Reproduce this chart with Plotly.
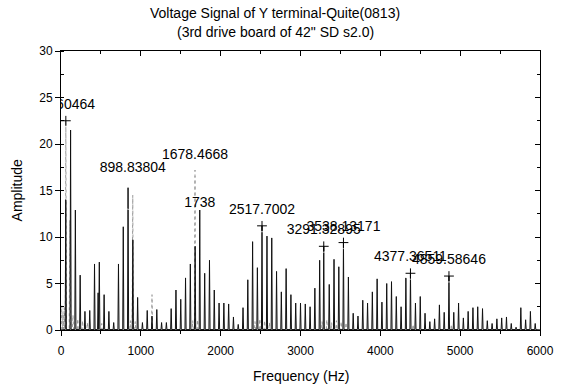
import plotly.graph_objects as go

# ---- spectrum data (frequency in Hz, amplitude) ----
# main spectrum (solid black)
black_freq = [60, 120, 180, 240, 300, 360, 420, 465, 480, 540, 600, 660, 720, 780, 840, 900,
              960, 1020, 1080, 1140, 1200, 1260, 1320, 1380, 1440, 1500, 1560, 1620, 1680,
              1738, 1800, 1860, 1920, 1980, 2040, 2100, 2160, 2220, 2280, 2340, 2400, 2460,
              2517.7002, 2580, 2640, 2700, 2760, 2820, 2880, 2940, 3000, 3060, 3120, 3180,
              3240, 3291.32895, 3360, 3420, 3480, 3538.13171, 3600, 3660, 3720, 3780, 3840,
              3900, 3960, 4020, 4080, 4140, 4200, 4260, 4320, 4377.36511, 4440, 4500, 4560,
              4620, 4680, 4740, 4800, 4859.58646, 4920, 4980, 5040, 5100, 5160, 5220, 5280,
              5340, 5400, 5460, 5520, 5580, 5640, 5700, 5760, 5820, 5880, 5940]
black_amp = [14.0, 21.5, 12.9, 5.9, 2.0, 2.1, 7.1, 4.0, 7.3, 3.8, 2.0, 0.8, 7.1, 11.1, 15.3, 9.7,
             3.5, 0.8, 2.1, 1.5, 2.2, 0.8, 0.8, 2.3, 4.3, 3.3, 5.6, 7.1, 9.0,
             12.9, 6.1, 7.5, 4.3, 2.9, 2.9, 2.8, 1.4, 0.6, 2.4, 5.4, 9.5, 6.7,
             11.2, 10.1, 9.9, 6.3, 4.1, 6.6, 3.8, 2.9, 2.9, 2.8, 2.5, 4.5,
             7.5, 9.0, 4.9, 7.6, 6.8, 9.4, 5.7, 1.8, 1.5, 3.2, 2.9,
             4.1, 5.5, 3.0, 5.0, 5.2, 3.6, 2.5, 5.6, 6.1, 2.9, 3.6, 1.8,
             0.9, 1.2, 2.7, 1.9, 5.8, 1.9, 2.9, 1.3, 2.0, 2.4, 2.5, 2.3,
             1.0, 0.7, 1.2, 1.3, 1.4, 0.7, 0.3, 2.4, 1.1, 2.0, 0.7]

# second spectrum (dotted grey)
grey_freq = [10, 25, 40, 60.60464, 110, 150, 210, 270, 330, 510, 870, 898.83804, 930,
             1140, 1650, 1678.4668, 1710, 2430, 2490, 2550, 2610, 3270, 3330, 3390, 3450,
             3510, 3570, 4410, 4890]
grey_amp = [2.6, 1.8, 2.4, 22.5, 11.8, 1.6, 1.2, 1.0, 0.8, 0.7, 1.0, 14.5, 0.9,
            3.8, 1.0, 17.2, 1.1, 0.9, 1.2, 1.0, 0.8, 0.9, 1.1, 0.8, 1.0,
            0.9, 0.8, 0.6, 0.6]

# picked peaks
peak_freq = [60.60464, 898.83804, 1678.4668, 1738, 2517.7002, 3291.32895, 3538.13171,
             4377.36511, 4859.58646]
peak_amp = [22.5, 14.5, 17.2, 12.9, 11.2, 9.0, 9.4, 6.1, 5.8]
peak_label = ["60.60464", "898.83804", "1678.4668", "1738", "2517.7002", "3291.32895",
              "3538.13171", "4377.36511", "4859.58646"]
cross_freq = [60.60464, 2517.7002, 3291.32895, 3538.13171, 4377.36511, 4859.58646]
cross_amp = [22.5, 11.2, 9.0, 9.4, 6.1, 5.8]

x_ticks = [0, 1000, 2000, 3000, 4000, 5000, 6000]
y_ticks = [0, 5, 10, 15, 20, 25, 30]

FONT = "Liberation Sans, Arial, sans-serif"


def stick_trace(freqs, amps, half_width=7.0):
    """Turn a list of peaks into a narrow-peaked line spectrum."""
    xs, ys = [0.0], [0.0]
    for f, a in sorted(zip(freqs, amps)):
        xs += [f - half_width, f, f + half_width]
        ys += [0.05, a, 0.05]
    xs.append(6000.0)
    ys.append(0.0)
    return xs, ys


bx, by = stick_trace(black_freq, black_amp)
gx, gy = stick_trace(grey_freq, grey_amp)

fig = go.Figure()
fig.add_trace(go.Scatter(x=gx, y=gy, mode="lines",
                         line=dict(color="#9a9a9a", width=1, dash="dot"),
                         hoverinfo="skip", showlegend=False))
fig.add_trace(go.Scatter(x=bx, y=by, mode="lines",
                         line=dict(color="#111111", width=1),
                         hoverinfo="skip", showlegend=False))
fig.add_trace(go.Scatter(x=cross_freq, y=cross_amp, mode="markers",
                         marker=dict(symbol="cross-thin", size=7,
                                     line=dict(color="black", width=1)),
                         hoverinfo="skip", showlegend=False))
# peak labels, clipped to the plotting area
label_offsets = [12, 30, 10, 0, 12, 12, 12, 12, 12]
fig.add_trace(go.Scatter(x=peak_freq, y=peak_amp, mode="markers+text",
                         text=peak_label, textposition="top center",
                         textfont=dict(family=FONT, size=14, color="black"),
                         marker=dict(size=label_offsets, color="rgba(0,0,0,0)"),
                         cliponaxis=True, hoverinfo="skip", showlegend=False))
# mirror axes for the top/right frame with inward ticks
fig.add_trace(go.Scatter(x=[None], y=[None], xaxis="x2", yaxis="y2",
                         showlegend=False, hoverinfo="skip"))

axis_common = dict(showgrid=False, zeroline=False, showline=True, linecolor="black",
                   linewidth=1, tickcolor="black",
                   tickfont=dict(family=FONT, size=12, color="black"))

fig.update_layout(
    width=567, height=389,
    margin=dict(l=61, r=27, t=51, b=59),
    paper_bgcolor="white", plot_bgcolor="white",
    font=dict(family=FONT, color="black"),
    xaxis=dict(range=[0, 6000], tickvals=x_ticks, ticks="outside", ticklen=5,
               ticklabelstandoff=5,
               minor=dict(dtick=500, ticks="outside", ticklen=3, tickcolor="black"),
               **axis_common),
    yaxis=dict(range=[0, 30], tickvals=y_ticks, ticks="outside", ticklen=5,
               minor=dict(dtick=2.5, ticks="inside", ticklen=3, tickcolor="black"),
               **axis_common),
    xaxis2=dict(range=[0, 6000], overlaying="x", side="top", anchor="y2",
                tickvals=x_ticks, ticks="inside", ticklen=5, showticklabels=False,
                minor=dict(dtick=500, ticks="inside", ticklen=3, tickcolor="black"),
                **axis_common),
    yaxis2=dict(range=[0, 30], overlaying="y", side="right", anchor="x2",
                tickvals=y_ticks, ticks="inside", ticklen=5, showticklabels=False,
                minor=dict(dtick=2.5, ticks="inside", ticklen=3, tickcolor="black"),
                **axis_common),
    annotations=[
        dict(text="Voltage Signal of Y terminal-Quite(0813)", xref="paper", yref="paper",
             x=0.447, y=1.136, xanchor="center", yanchor="middle", showarrow=False,
             font=dict(family=FONT, size=14, color="black")),
        dict(text="(3rd drive board of 42\" SD s2.0)", xref="paper", yref="paper",
             x=0.447, y=1.068, xanchor="center", yanchor="middle", showarrow=False,
             font=dict(family=FONT, size=14, color="black")),
        dict(text="Frequency (Hz)", xref="paper", yref="paper",
             x=0.5, y=-0.165, xanchor="center", yanchor="middle", showarrow=False,
             font=dict(family=FONT, size=14, color="black")),
        dict(text="Amplitude", xref="paper", yref="paper", textangle=-90,
             x=-0.092, y=0.5, xanchor="center", yanchor="middle", showarrow=False,
             font=dict(family=FONT, size=14, color="black")),
    ],
)

fig.write_html("out.html")
